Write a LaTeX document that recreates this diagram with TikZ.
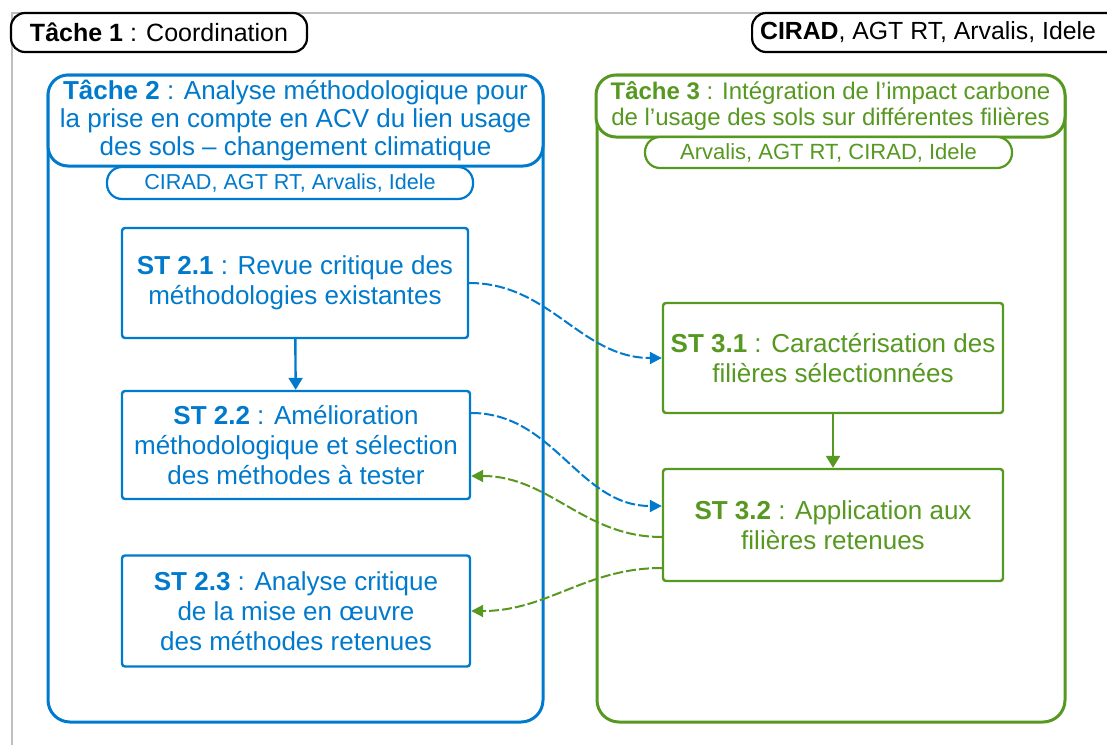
\documentclass[tikz,border=0pt]{standalone}
\usepackage{fontspec}
\setmainfont{Liberation Sans}
\usetikzlibrary{arrows.meta}
\definecolor{tblue}{RGB}{0,122,204}
\definecolor{tgreen}{RGB}{86,152,32}
\definecolor{tgray}{RGB}{190,190,190}

\begin{document}
\begin{tikzpicture}[x=0.5pt,y=-0.5pt,
  pill/.style={draw, line width=1.1pt, fill=white, rounded corners=7pt, inner sep=0pt, align=center},
  stbox/.style={draw, line width=1.2pt, fill=white, rounded corners=1.5pt, align=center,
    inner sep=0pt, font=\fontsize{13}{15}\selectfont},
  inblue/.style={draw=tblue, text=tblue},
  ingreen/.style={draw=tgreen, text=tgreen},
  conn/.style={line width=1pt, dash pattern=on 5pt off 1.5pt, -{Triangle[length=6pt,width=6pt]}},
  flow/.style={line width=1.2pt, -{Triangle[length=6pt,width=7pt]}}
]
\useasboundingbox (0,0) rectangle (1107,744);
\clip (0,0) rectangle (1107,744);

% outer frame of task 1
\draw[tgray, line width=0.8pt] (12,13) rectangle (1130,770);

% Task 1 and its partners
\node[pill, minimum width=148pt, minimum height=19.5pt, font=\fontsize{12.5}{14}\selectfont]
  (t1) at (159,32.5) {\textbf{Tâche 1} : Coordination};
\node[pill, anchor=west, minimum height=19.5pt, inner xsep=4pt, font=\fontsize{12.4}{14}\selectfont]
  (t1p) at (751,32.5) {\textbf{CIRAD}, AGT RT, Arvalis, Idele\hspace{10pt}};

% Task 2 frame
\draw[tblue, line width=1.5pt, rounded corners=11pt] (48,75) rectangle (543,722);
\node[pill, inblue, line width=1.5pt, rounded corners=10pt, font=\fontsize{13}{13.8}\selectfont,
  minimum width=247.5pt, minimum height=45.5pt]
  (t2) at (295.5,120.5) {\textbf{Tâche 2} : Analyse méthodologique pour\\la prise en compte en ACV du lien usage\\des sols – changement climatique};
\node[pill, inblue, rounded corners=7.5pt, font=\fontsize{10.8}{12}\selectfont, minimum width=183pt, minimum height=16pt]
  (t2p) at (290,183) {CIRAD, AGT RT, Arvalis, Idele};

% Task 3 frame
\draw[tgreen, line width=1.5pt, rounded corners=11pt] (597,75) rectangle (1065,722);
\node[pill, ingreen, line width=1.5pt, rounded corners=10pt, font=\fontsize{12}{12.8}\selectfont,
  minimum width=234.5pt, minimum height=31pt]
  (t3) at (830.5,106) {\textbf{Tâche 3} : Intégration de l'impact carbone\\de l'usage des sols sur différentes filières};
\node[pill, ingreen, rounded corners=7.5pt, font=\fontsize{11}{12}\selectfont, minimum width=183.5pt, minimum height=15.5pt]
  (t3p) at (828.5,152.5) {Arvalis, AGT RT, CIRAD, Idele};

% sub-tasks
\node[stbox, inblue, minimum width=173pt, minimum height=55pt] (st21) at (295,283)
  {\textbf{ST 2.1} : Revue critique des\\méthodologies existantes};
\node[stbox, inblue, minimum width=174pt, minimum height=54pt] (st22) at (296,445)
  {\textbf{ST 2.2} : Amélioration\\méthodologique et sélection\\des méthodes à tester};
\node[stbox, inblue, minimum width=174pt, minimum height=55.5pt] (st23) at (296,611)
  {\textbf{ST 2.3} : Analyse critique\\de la mise en œuvre\\des méthodes retenues};
\node[stbox, ingreen, minimum width=170pt, minimum height=55pt] (st31) at (833,358)
  {\textbf{ST 3.1} : Caractérisation des\\filières sélectionnées};
\node[stbox, ingreen, minimum width=170pt, minimum height=56pt] (st32) at (833,525)
  {\textbf{ST 3.2} : Application aux\\filières retenues};

% links
\draw[flow, tblue] (st21) -- (st22);
\draw[flow, tgreen] (st31) -- (st32);
\draw[conn, tblue] (st21.east) to[out=0, in=180] (st31.west);
\draw[conn, tblue] ([yshift=16pt]st22.east) to[out=0, in=180] ([yshift=9.5pt]st32.west);
\draw[conn, tgreen] ([yshift=-6pt]st32.west) to[out=180, in=0] ([yshift=-15.5pt]st22.east);
\draw[conn, tgreen] ([yshift=-21.5pt]st32.west) to[out=180, in=0] (st23.east);
\end{tikzpicture}
\end{document}
